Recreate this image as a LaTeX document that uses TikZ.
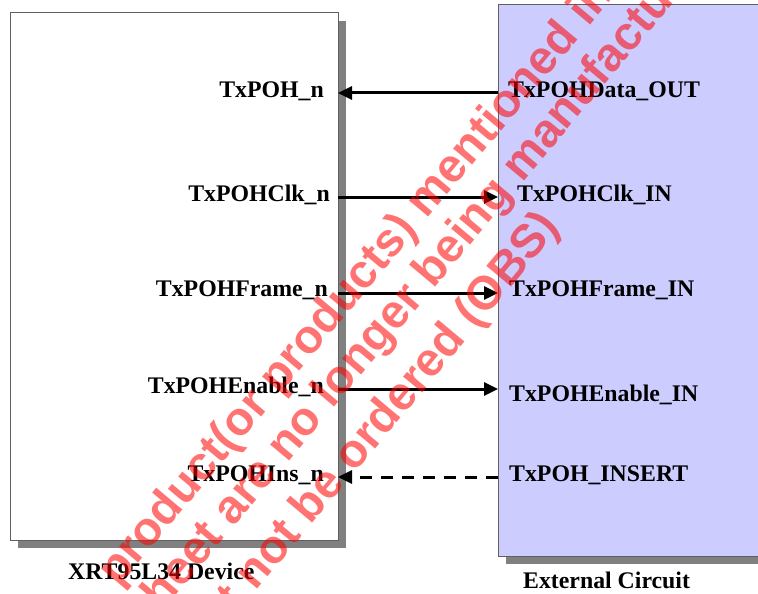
\documentclass[tikz,border=0pt]{standalone}
\usepackage{fontspec}
\setmainfont{Liberation Serif}
\newfontfamily\wmfont{Liberation Sans}
\usetikzlibrary{arrows.meta,shadows}
\definecolor{boxline}{HTML}{606060}
\definecolor{shadowgray}{HTML}{808080}
\definecolor{lavender}{HTML}{CCCCFF}
\begin{document}
\begin{tikzpicture}[x=1pt,y=-1pt,
  box/.style={draw=boxline, line width=1pt, inner sep=0pt,
    drop shadow={shadow xshift=8pt, shadow yshift=-8pt, fill=shadowgray, opacity=1}},
  lbl/.style={inner sep=0pt, font=\bfseries\fontsize{23.8}{28}\selectfont},
  sig/.style={line width=3pt, -{Triangle[length=14pt,width=13pt]}},
  dsig/.style={sig, dash pattern=on 12pt off 9pt},
  wm/.style={inner sep=0pt, anchor=base west, rotate=50, text=red, text opacity=0.55,
    font=\wmfont\bfseries\fontsize{47}{47}\selectfont}]
\useasboundingbox (0,0) rectangle (758,594);
\clip (0,0) rectangle (758,594);
% boxes
\node[box, fill=white, minimum width=328pt, minimum height=527pt] (L) at (174,276.5) {};
\node[box, fill=lavender, minimum width=292pt, minimum height=551pt] (R) at (644,280.5) {};
% pins
\coordinate (L1) at (338,93);  \coordinate (R1) at (498,93);
\coordinate (L2) at (338,197); \coordinate (R2) at (498,197);
\coordinate (L3) at (338,293); \coordinate (R3) at (498,293);
\coordinate (L4) at (338,389); \coordinate (R4) at (498,389);
\coordinate (L5) at (338,477); \coordinate (R5) at (498,477);
% connectors
\draw[sig] (R1) -- (L1);
\draw[sig] (L2) -- (R2);
\draw[sig] (L3) -- (R3);
\draw[sig] (L4) -- (R4);
\draw[dsig] (R5) -- (L5);
% left labels
\node[lbl, anchor=base east] (a1) at (324,97) {TxPOH\_n};
\node[lbl, anchor=base east] (a2) at (330,201) {TxPOHClk\_n};
\node[lbl, anchor=base east] (a3) at (328,296) {TxPOHFrame\_n};
\node[lbl, anchor=base east] (a4) at (324,393) {TxPOHEnable\_n};
\node[lbl, anchor=base east] (a5) at (324,481) {TxPOHIns\_n};
% right labels
\node[lbl, anchor=base west] (b1) at (508,97) {TxPOHData\_OUT};
\node[lbl, anchor=base west] (b2) at (517,201) {TxPOHClk\_IN};
\node[lbl, anchor=base west] (b3) at (509,296) {TxPOHFrame\_IN};
\node[lbl, anchor=base west] (b4) at (509,401) {TxPOHEnable\_IN};
\node[lbl, anchor=base west] (b5) at (509,481) {TxPOH\_INSERT};
% captions
\node[lbl, anchor=base west] (capL) at (68,579) {XRT95L34 Device};
\node[lbl, anchor=base west] (capR) at (523,588) {External Circuit};
% watermark
\node[wm] (w1) at (118,588) {product(or products) mentioned in};
\node[wm] (w2) at (146,632) {sheet are no longer being manufactured};
\node[wm] (w3) at (237,614) {t not be ordered (OBS)};
\end{tikzpicture}
\end{document}
